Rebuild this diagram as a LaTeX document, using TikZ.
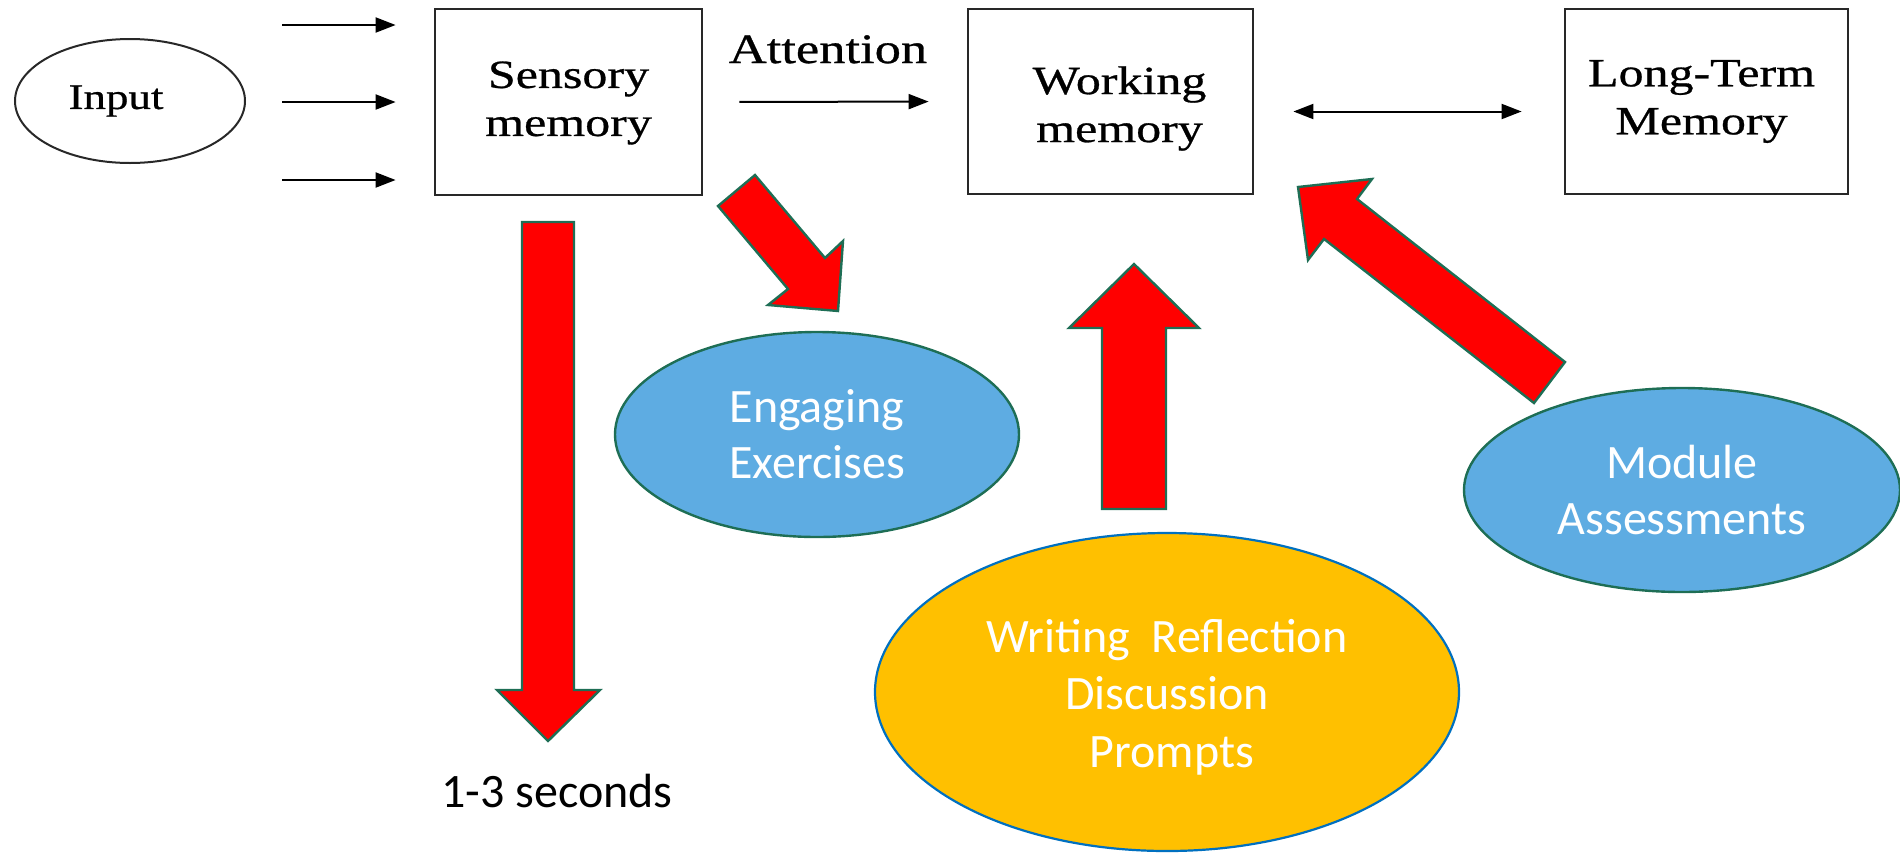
\documentclass[tikz,border=0pt]{standalone}
\usepackage{fontspec}
\setmainfont{Carlito}
\newfontfamily\tnr[FakeStretch=1.25,FakeBold=0.7]{Liberation Serif}
\usetikzlibrary{arrows.meta,shapes.geometric}

\definecolor{skyfill}{RGB}{94,172,226}
\definecolor{tealline}{RGB}{30,110,85}
\definecolor{goldfill}{RGB}{255,192,0}
\definecolor{blueline}{RGB}{0,112,192}
\definecolor{inkgray}{RGB}{40,40,40}
\definecolor{hotred}{RGB}{255,0,0}

\tikzset{
  stagebox/.style={draw=inkgray, line width=1.4pt, fill=white, inner sep=0pt},
  stagetext/.style={inner sep=0pt, align=center, font=\tnr\fontsize{20pt}{24pt}\selectfont},
  inputoval/.style={ellipse, draw=inkgray, line width=1pt, inner sep=0pt,
    font=\tnr\fontsize{18pt}{21pt}\selectfont},
  thinarr/.style={draw=black, line width=1pt, -{Triangle[length=10pt,width=7.5pt]}},
  thinboth/.style={draw=black, line width=1pt,
    {Triangle[length=10pt,width=7.5pt]}-{Triangle[length=10pt,width=7.5pt]}},
  blueoval/.style={ellipse, draw=tealline, line width=1.2pt, fill=skyfill,
    inner sep=0pt, align=center, text=white, font=\fontsize{24pt}{28pt}\selectfont},
  goldoval/.style={ellipse, draw=blueline, line width=1.1pt, fill=goldfill, inner sep=0pt},
  goldtext/.style={inner sep=0pt, align=center, text=white, font=\fontsize{24pt}{28.8pt}\selectfont},
  blockarr/.style={draw=tealline, line width=1.2pt, fill=hotred, line join=miter},
}

\begin{document}
\begin{tikzpicture}[x=0.5pt, y=-0.5pt]
\useasboundingbox (0,0) rectangle (1900,852);

% memory stages
\node[inputoval, minimum width=115pt, minimum height=62pt] (input) at (130,101) {Input\kern14pt};
\node[stagebox, minimum width=133.5pt, minimum height=93pt] (sensory) at (568.5,102) {};
\node[stagebox, minimum width=142.5pt, minimum height=92.5pt] (working) at (1110.5,101.5) {};
\node[stagebox, minimum width=141.5pt, minimum height=92.5pt] (ltm) at (1706.5,101.5) {};
\node[stagetext] (sensorytext) at ([yshift=-0.5pt]sensory.center) {Sensory\\memory};
\node[stagetext] (workingtext) at ([xshift=4.5pt,yshift=-3.5pt]working.center) {Working\\memory};
\node[stagetext] (ltmtext) at ([xshift=-2.5pt]ltm.center) {Long-Term\\Memory};

% incoming stimuli
\coordinate (in1) at (282,25);
\coordinate (in2) at (282,102);
\coordinate (in3) at (282,180);
\foreach \c in {in1,in2,in3}
  \draw[thinarr, shorten >=19pt] (\c) -- (\c -| sensory.west);

% attention and retrieval
\draw[thinarr, shorten <=18pt, shorten >=19pt] (sensory.east) -- (working.west);
\node[anchor=base, font=\tnr\fontsize{21pt}{24pt}\selectfont] (attn) at (828,63) {Attention};
\draw[thinboth, shorten <=19.5pt, shorten >=21pt]
  ([yshift=-5pt]working.east) -- ([yshift=-5pt]ltm.west);

% learning activities
\node[blueoval, minimum width=202pt, minimum height=102.5pt] (engage) at (817,434.5) {Engaging\\Exercises};
\node[blueoval, minimum width=218pt, minimum height=102pt] (module) at (1682,490) {Module\\Assessments};
\node[goldoval, minimum width=292pt, minimum height=159pt] (writing) at (1167,692) {};
\node[goldtext] (writingtext) at ([yshift=-2.5pt]writing.center)
  {Writing\ \ Reflection\\Discussion\\\hspace*{5pt}Prompts};

\node[anchor=base, font=\fontsize{24pt}{28pt}\selectfont] (decay) at (557,807) {1-3 seconds};

% block arrows
\draw[blockarr] (522,222) -- (574,222) -- (574,690) -- (600,690) -- (548,741)
  -- (497,690) -- (522,690) -- cycle;
\draw[blockarr] (1134,264) -- (1199,328) -- (1166,328) -- (1166,509) -- (1102,509)
  -- (1102,328) -- (1069,328) -- cycle;
\draw[blockarr] (718,206) -- (788,289) -- (768,305) -- (838,311) -- (843,241)
  -- (825,258) -- (755,175) -- cycle;
\draw[blockarr] (1298,187) -- (1372,179) -- (1357,199) -- (1565,362) -- (1534,403)
  -- (1324,239) -- (1308,260) -- cycle;
\end{tikzpicture}
\end{document}
